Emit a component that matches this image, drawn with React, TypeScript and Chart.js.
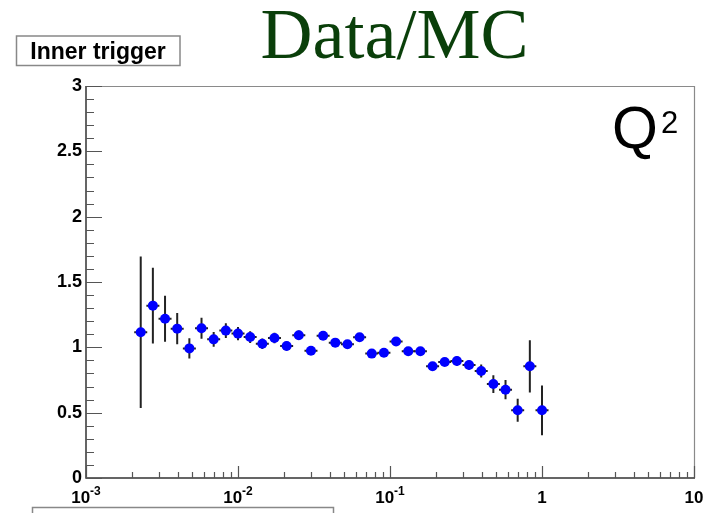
import React, { useEffect, useRef } from "react";
import { Chart, registerables } from "chart.js";

Chart.register(...registerables);

// Bin centres in Q^2 (log-spaced bins)
const qBins = [
  0.002291, 0.002754, 0.003311, 0.003981, 0.004786, 0.005754, 0.006918, 0.008318,
  0.01, 0.012023, 0.014454, 0.017378, 0.020893, 0.025119, 0.0302, 0.036308,
  0.043652, 0.052481, 0.063096, 0.075858, 0.091201, 0.109648, 0.131826, 0.158489,
  0.190546, 0.229087, 0.275423, 0.331131, 0.398107, 0.47863, 0.57544, 0.691831,
  0.831764, 1.0,
];

// Data/MC ratio
const ratio = [
  1.115, 1.319, 1.219, 1.143, 0.992, 1.146, 1.061, 1.128,
  1.105, 1.079, 1.028, 1.072, 1.01, 1.093, 0.974, 1.089,
  1.036, 1.023, 1.077, 0.952, 0.958, 1.045, 0.97, 0.97,
  0.855, 0.888, 0.895, 0.865, 0.819, 0.719, 0.676, 0.518,
  0.855, 0.518,
];

// Statistical errors on the ratio
const ratioErr = [
  0.58, 0.29, 0.176, 0.12, 0.077, 0.08, 0.056, 0.057,
  0.05, 0.045, 0.04, 0.04, 0.035, 0.035, 0.03, 0.03,
  0.03, 0.03, 0.03, 0.028, 0.028, 0.028, 0.028, 0.028,
  0.028, 0.03, 0.035, 0.035, 0.05, 0.068, 0.074, 0.088,
  0.2, 0.19,
];

const yTicks = [0, 0.5, 1, 1.5, 2, 2.5, 3];
const yTickLabels = ["0", "0.5", "1", "1.5", "2", "2.5", "3"];
const xDecades = [0.001, 0.01, 0.1, 1, 10];
const xDecadeBase = ["10", "10", "10", "1", "10"];
const xDecadeExp = ["-3", "-2", "-1", "", ""];

const titleText = "Data/MC";
const triggerText = "Inner trigger";

const SANS = '"Liberation Sans", Arial, Helvetica, sans-serif';

const decorPlugin = {
  id: "rootDecor",
  beforeDatasetsDraw(chart: any) {
    const ctx = chart.ctx;
    const xs = chart.scales.x;
    const ys = chart.scales.y;
    ctx.save();
    ctx.strokeStyle = "#222";
    ctx.lineWidth = 2;
    for (let i = 0; i < qBins.length; i++) {
      const px = xs.getPixelForValue(qBins[i]);
      const py = ys.getPixelForValue(ratio[i]);
      const pTop = ys.getPixelForValue(ratio[i] + ratioErr[i]);
      const pBot = ys.getPixelForValue(ratio[i] - ratioErr[i]);
      ctx.beginPath();
      ctx.moveTo(px, pTop);
      ctx.lineTo(px, pBot);
      ctx.moveTo(px - 6.5, py);
      ctx.lineTo(px + 6.5, py);
      ctx.stroke();
    }
    ctx.restore();
  },
  afterDraw(chart: any) {
    const ctx = chart.ctx;
    const xs = chart.scales.x;
    const ys = chart.scales.y;
    const { left, right, top, bottom } = chart.chartArea;
    ctx.save();

    // frame
    ctx.strokeStyle = "#8a8a8a";
    ctx.lineWidth = 1.2;
    ctx.beginPath();
    ctx.moveTo(left, top + 0.5);
    ctx.lineTo(right + 0.5, top + 0.5);
    ctx.lineTo(right + 0.5, bottom);
    ctx.stroke();

    // axes
    ctx.strokeStyle = "#333";
    ctx.lineWidth = 1.5;
    ctx.beginPath();
    ctx.moveTo(left, top);
    ctx.lineTo(left, bottom);
    ctx.lineTo(right + 1, bottom);
    ctx.stroke();

    // y ticks
    ctx.strokeStyle = "#555";
    ctx.lineWidth = 1.2;
    ctx.beginPath();
    for (let k = 0; k <= 30; k++) {
      const v = k / 10;
      const py = Math.round(ys.getPixelForValue(v)) + 0.5;
      const len = k % 5 === 0 ? 16 : 8;
      ctx.moveTo(left, py);
      ctx.lineTo(left + len, py);
    }
    // x ticks
    for (let d = 0; d < xDecades.length; d++) {
      const base = xDecades[d];
      const px = Math.round(xs.getPixelForValue(base)) + 0.5;
      ctx.moveTo(px, bottom);
      ctx.lineTo(px, bottom - 12);
      if (d < xDecades.length - 1) {
        for (let m = 2; m <= 9; m++) {
          const mx = Math.round(xs.getPixelForValue(base * m)) + 0.5;
          ctx.moveTo(mx, bottom);
          ctx.lineTo(mx, bottom - 6);
        }
      }
    }
    ctx.stroke();

    // y labels
    ctx.fillStyle = "#000";
    ctx.font = `bold 18px ${SANS}`;
    ctx.textAlign = "right";
    ctx.textBaseline = "alphabetic";
    yTicks.forEach((v, i) => {
      ctx.fillText(yTickLabels[i], left - 4, ys.getPixelForValue(v) + 5);
    });

    // x labels
    xDecades.forEach((v, i) => {
      const px = xs.getPixelForValue(v);
      ctx.font = `bold 17px ${SANS}`;
      const wb = ctx.measureText(xDecadeBase[i]).width;
      ctx.font = `bold 12px ${SANS}`;
      const we = xDecadeExp[i] ? ctx.measureText(xDecadeExp[i]).width : 0;
      const start = px - (wb + we) / 2;
      ctx.textAlign = "left";
      ctx.font = `bold 17px ${SANS}`;
      ctx.fillText(xDecadeBase[i], start, bottom + 25);
      if (xDecadeExp[i]) {
        ctx.font = `bold 12px ${SANS}`;
        ctx.fillText(xDecadeExp[i], start + wb, bottom + 17);
      }
    });

    // Q^2 label
    ctx.textAlign = "left";
    ctx.font = `59px ${SANS}`;
    ctx.fillText("Q", 612, 148);
    ctx.font = `31px ${SANS}`;
    ctx.fillText("2", 661, 133);

    // title
    ctx.fillStyle = "#0a3f0a";
    ctx.font = `72px "Liberation Serif", "Times New Roman", serif`;
    ctx.textAlign = "center";
    ctx.fillText(titleText, 394.5, 58);

    // Inner trigger box
    ctx.fillStyle = "#fff";
    ctx.fillRect(16.5, 36, 163.5, 29.5);
    ctx.strokeStyle = "#888";
    ctx.lineWidth = 1.5;
    ctx.strokeRect(16.5, 36, 163.5, 29.5);
    ctx.fillStyle = "#000";
    ctx.font = `bold 23px ${SANS}`;
    ctx.textAlign = "center";
    ctx.fillText(triggerText, 98, 59);

    // bottom (cut-off) box
    ctx.strokeStyle = "#888";
    ctx.lineWidth = 1.5;
    ctx.strokeRect(32.5, 507.5, 301, 20);

    ctx.restore();
  },
};

export default function App() {
  const canvasRef = useRef<HTMLCanvasElement | null>(null);

  useEffect(() => {
    if (!canvasRef.current) return;
    const points = qBins.map((q, i) => ({ x: q, y: ratio[i] }));
    const chart = new Chart(canvasRef.current, {
      type: "scatter",
      data: {
        datasets: [
          {
            data: points,
            backgroundColor: "#0000ff",
            borderColor: "#0000ff",
            pointRadius: 5,
            pointBorderWidth: 0,
            pointHoverRadius: 5,
          },
        ],
      },
      options: {
        responsive: false,
        animation: false,
        events: [],
        layout: { padding: { left: 86, right: 15, top: 86, bottom: 35 } },
        plugins: {
          legend: { display: false },
          tooltip: { enabled: false },
          title: { display: false },
        },
        scales: {
          x: {
            type: "logarithmic",
            min: 0.001,
            max: 10,
            grid: { display: false },
            border: { display: false },
            ticks: { display: false },
            afterFit: (s: any) => {
              s.height = 0;
            },
          },
          y: {
            type: "linear",
            min: 0,
            max: 3,
            grid: { display: false },
            border: { display: false },
            ticks: { display: false },
            afterFit: (s: any) => {
              s.width = 0;
            },
          },
        },
      },
      plugins: [decorPlugin],
    });
    return () => chart.destroy();
  }, []);

  return (
    <div style={{ position: "fixed", left: 0, top: 0, width: 709, height: 513, background: "#fff", overflow: "hidden" }}>
      <canvas ref={canvasRef} width={709} height={513} style={{ display: "block" }} />
    </div>
  );
}
